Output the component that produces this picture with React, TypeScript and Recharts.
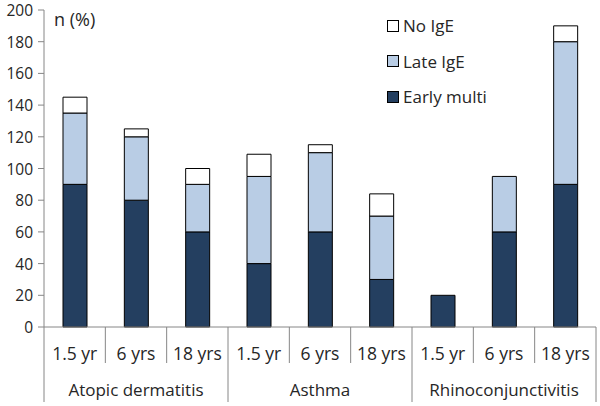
import React from 'react';
import { BarChart, Bar, XAxis, YAxis } from 'recharts';

const years = ['1.5 yr', '6 yrs', '18 yrs', '1.5 yr', '6 yrs', '18 yrs', '1.5 yr', '6 yrs', '18 yrs'];
const groups = ['Atopic dermatitis', 'Asthma', 'Rhinoconjunctivitis'];
const earlyMulti = [90, 80, 60, 40, 60, 30, 20, 60, 90];
const lateIgE = [45, 40, 30, 55, 50, 40, 0, 35, 90];
const noIgE = [10, 5, 10, 14, 5, 14, 0, 0, 10];
const yTicks = [0, 20, 40, 60, 80, 100, 120, 140, 160, 180, 200];

const data = years.map((y, i) => ({
  year: y,
  group: groups[Math.floor(i / 3)],
  early: earlyMulti[i],
  late: lateIgE[i],
  none: noIgE[i],
}));

const FONT = "'Open Sans', sans-serif";
const TEXT = '#262626';
const AXIS = '#868686';

const legendItems = [
  { label: 'No IgE', color: '#ffffff' },
  { label: 'Late IgE', color: '#B9CDE5' },
  { label: 'Early multi', color: '#243F60' },
];

const XTick = (props: any) => {
  const { payload, y, index } = props;
  const cx = payload.coordinate;
  const half = payload.offset || 0;
  const top = y - 8;
  const isGroupEnd = index % 3 === 2;
  return (
    <g>
      <text x={cx} y={top + 33} textAnchor="middle" fill={TEXT} fontSize={17.5} fontFamily={FONT}>
        {payload.value}
      </text>
      <line x1={cx + half} y1={top} x2={cx + half} y2={top + (isGroupEnd ? 75 : 36)} stroke={AXIS} />
      {index === 0 && <line x1={cx - half} y1={top} x2={cx - half} y2={top + 75} stroke={AXIS} />}
      {index % 3 === 1 && (
        <text x={cx} y={top + 69} textAnchor="middle" fill={TEXT} fontSize={17} fontFamily={FONT}>
          {data[index].group}
        </text>
      )}
    </g>
  );
};

const YTick = (props: any) => {
  const { x, y, payload } = props;
  return (
    <text x={x} y={y + 6} textAnchor="end" fill={TEXT} fontSize={15.5} fontFamily={FONT}>
      {payload.value}
    </text>
  );
};

const LegendBox = () => (
  <div
    style={{
      position: 'absolute',
      left: 387,
      top: 8,
      fontFamily: FONT,
      fontSize: 17,
      color: TEXT,
      lineHeight: 1,
    }}
  >
    {legendItems.map((it) => (
      <div key={it.label} style={{ display: 'flex', alignItems: 'center', height: 35.5 }}>
        <span
          style={{
            display: 'inline-block',
            width: 10,
            height: 10,
            background: it.color,
            border: '1px solid #000',
            marginRight: 4,
          }}
        />
        <span>{it.label}</span>
      </div>
    ))}
  </div>
);

export default function App() {
  return (
    <div style={{ position: 'absolute', left: 0, top: 0, width: 600, height: 406, background: '#fff' }}>
      <BarChart width={600} height={406} data={data} margin={{ top: 10, right: 4, bottom: 0, left: 0 }} barSize={24}>
        <XAxis
          dataKey="year"
          height={79}
          tickLine={false}
          axisLine={{ stroke: AXIS }}
          tick={<XTick />}
          interval={0}
        />
        <YAxis
          width={44}
          domain={[0, 200]}
          ticks={yTicks}
          interval={0}
          axisLine={{ stroke: AXIS }}
          tickLine={{ stroke: AXIS }}
          tickSize={6}
          tickMargin={5}
          tick={<YTick />}
          label={{
            content: ({ viewBox }: any) => (
              <text x={viewBox.x + viewBox.width + 10} y={viewBox.y + 16} fill={TEXT} fontSize={18} fontFamily={FONT}>
                n (%)
              </text>
            ),
          }}
        />
        <Bar dataKey="early" stackId="a" fill="#243F60" stroke="#000" strokeWidth={1} isAnimationActive={false} />
        <Bar dataKey="late" stackId="a" fill="#B9CDE5" stroke="#000" strokeWidth={1} isAnimationActive={false} />
        <Bar dataKey="none" stackId="a" fill="#ffffff" stroke="#000" strokeWidth={1} isAnimationActive={false} />
      </BarChart>
      <LegendBox />
    </div>
  );
}
